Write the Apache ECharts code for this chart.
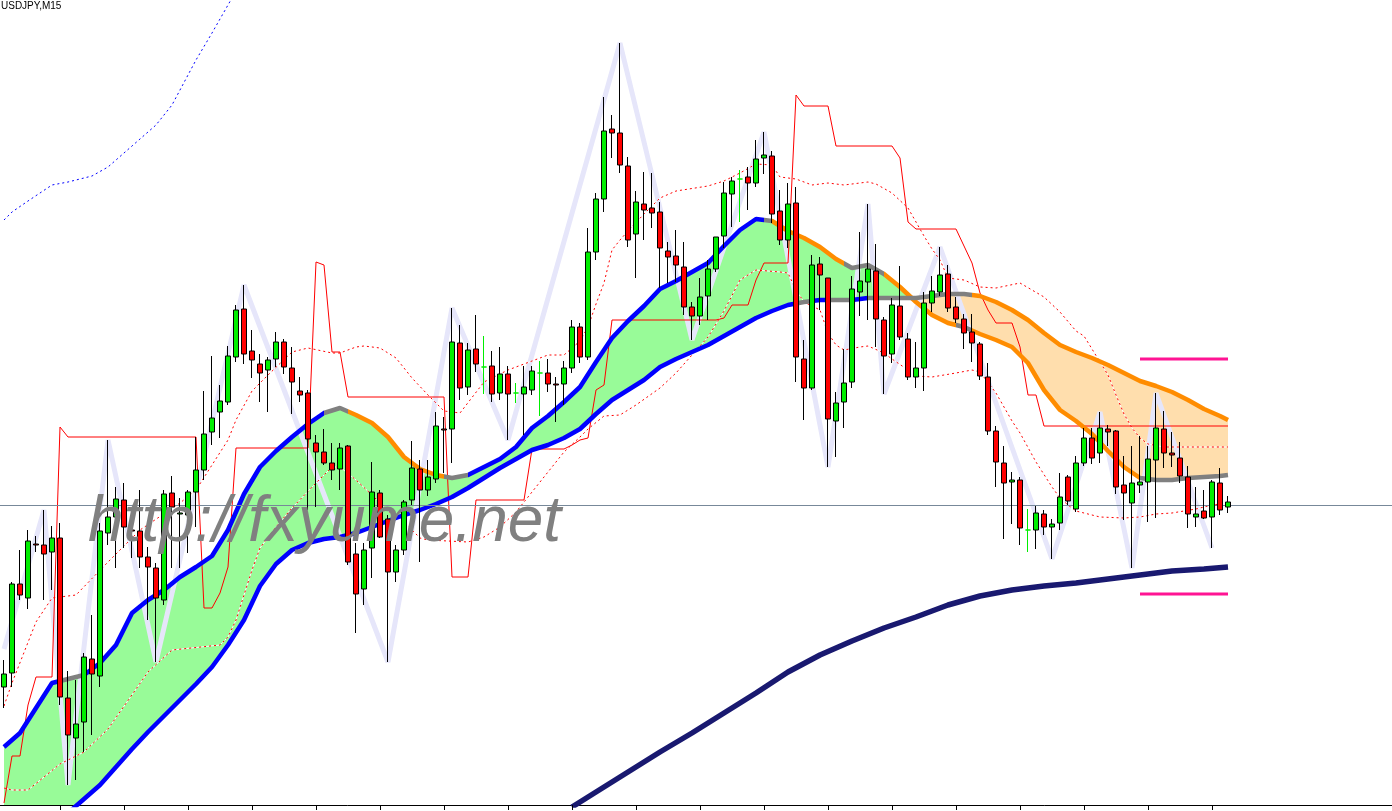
<!DOCTYPE html>
<html><head><meta charset="utf-8">
<script src="https://cdn.jsdelivr.net/npm/echarts/dist/echarts.min.js"></script>
<style>html,body{margin:0;padding:0;background:#fff}#c{width:1392px;height:811px}</style>
</head><body><div id="c"></div>
<script>
// All values are in points (0.001 JPY) above BASE.
const BASE = 107.5, PT = 0.001;
const SLOTS = 174; // bar slots visible on the chart (154 bars + empty right margin)
const TICK_EVERY = 8, TICK_OFFSET = 7;

const OPEN = [118,132,221,207,261,260,253,267,107,67,
83,146,129,272,288,305,275,274,248,237,
205,312,291,290,313,335,373,393,403,448,
496,454,441,435,446,463,437,414,412,362,
353,342,336,359,251,216,257,312,286,233,
255,305,336,315,326,376,376,462,418,456,
438,439,412,431,412,411,415,432,432,421,
421,437,478,448,553,606,676,672,639,571,
601,597,593,554,549,538,498,489,509,536,
569,611,626,628,622,647,649,594,565,602,
446,417,541,527,384,403,423,513,523,534,
485,451,499,466,428,437,502,513,531,498,
486,473,461,428,374,342,323,325,275,275,
291,278,282,328,296,342,367,352,376,374,
320,302,320,323,345,376,352,347,328,288,
294,288,322,298];
const CLOSE = [131,221,210,264,260,251,267,108,70,81,
148,131,274,288,306,278,274,248,238,207,
311,298,292,313,335,371,387,404,449,495,
451,445,432,445,463,438,423,410,366,353,
342,335,357,243,211,255,313,268,233,255,
303,337,315,328,379,375,463,417,455,441,
438,411,431,411,412,418,434,432,421,420,
437,478,448,553,606,674,672,640,565,603,
595,592,557,548,540,498,489,508,536,568,
612,624,626,622,646,650,591,565,601,448,
417,540,530,386,402,422,516,524,536,486,
449,500,468,428,437,502,514,530,497,486,
472,462,429,374,343,322,325,277,275,292,
278,281,308,304,342,367,347,377,373,318,
312,322,323,346,377,352,350,329,291,291,
287,323,295,303];
const HIGH = [145,223,255,275,269,295,279,282,134,125,
152,190,282,365,318,322,298,315,258,242,
315,329,307,315,368,414,449,420,459,500,
520,475,451,448,473,466,458,428,415,370,
376,362,362,360,262,262,343,315,290,260,
305,364,345,345,393,388,497,480,462,490,
469,454,458,439,422,439,439,444,446,428,
444,485,482,577,612,708,690,762,648,614,
633,632,603,563,575,563,503,527,545,568,
623,628,635,638,665,673,654,615,622,618,
465,550,548,527,413,456,529,573,601,561,
488,507,539,472,463,513,529,558,540,508,
491,491,463,442,379,359,333,328,296,299,
295,286,332,330,349,377,377,393,380,375,
349,359,369,359,412,394,373,363,339,318,
315,325,337,309];
const LOW = [97,118,205,196,253,205,215,100,20,25,
53,70,118,260,237,257,247,237,185,143,
200,237,237,252,278,325,360,367,400,443,
441,427,403,393,438,431,391,403,295,298,
340,325,315,240,172,200,227,267,143,223,
250,300,243,309,322,332,342,405,410,433,
411,403,405,365,402,370,410,389,413,383,
400,432,442,445,545,593,647,632,558,527,
565,577,517,522,523,490,465,480,485,533,
557,578,583,595,618,631,582,560,557,423,
385,415,495,338,348,377,417,489,485,458,
411,442,465,425,417,414,493,509,493,482,
456,443,425,370,318,266,281,260,253,256,
270,246,275,300,293,339,341,342,359,311,
285,237,312,283,287,337,338,322,277,278,
286,257,290,292];

// Moving averages read every 2 bars (bar index list MA_K)
const MA_K = Array.from({length: 77}, (_, i) => 2 * i).concat([153]);
const MA_FAST = [58,72,97,122,126,130,142,160,192,205,
215,228,238,249,275,311,338,354,368,381,
392,397,390,382,368,348,336,330,327,330,
338,346,358,377,389,403,418,443,467,484,
499,516,524,533,542,559,575,586,584,574,
567,558,546,537,540,531,518,503,490,482,
478,471,465,458,442,415,395,384,371,354,
338,327,325,325,327,328,329,330];
const MA_SLOW = [-66,-51,-37,-23,-8,6,20,38,56,73,
89,105,121,138,160,185,219,241,255,262,
266,268,272,278,284,290,295,301,308,317,
327,337,346,355,360,367,376,391,405,415,
425,438,446,453,460,469,478,487,494,500,
503,505,505,505,507,507,507,507,509,511,
511,509,503,495,485,472,460,453,447,440,
432,424,419,413,405,396,389,385];

// Long moving average
const NV_K = [71,74,78,82,86,90,94,98,102,106,110,114,118,122,126,130,134,138,142,146,150,153];
const NV_V = [-2,13,33,53,72,92,112,133,150,164,177,188,200,209,215,219,222,226,230,234,236,238];

// Trailing stop (one value per bar)
const STOP = [2,49,49,100,128,128,128,378,368,368,
368,368,368,368,368,368,368,368,368,368,
368,368,368,368,368,197,197,212,238,357,
357,357,357,357,357,357,357,357,357,543,
540,453,453,408,408,408,408,408,408,408,
408,408,408,408,408,408,228,228,228,305,
305,305,305,305,305,305,356,356,356,356,
356,360,365,367,415,420,485,485,485,485,
485,485,485,485,485,485,485,485,485,485,
487,500,500,500,525,542,542,542,542,710,
699,699,699,699,659,659,659,659,659,659,
659,659,647,583,576,576,576,576,576,576,
559,542,512,495,482,482,482,458,410,410,
379,379,379,379,379,379,379,379,379,379,
379,379,379,379,379,379,379,379,379,379,
379,379,379,379];

// Upper / lower dotted envelopes
const UP_K = [0,1,4,6,9,13,17,22,24,28,29,31,33,36,38,41,42,44,45,47,49,51,53,55,57,60,63,65,68,70,71,72,73,74,75,76,77,78,80,82,84,88,90,92,94,96,97,99,101,103,105,108,109,111,113,114,115,116,117,118,120,122,124,127,130,132,134,135,137,138,139,140,141,142,143,145,153];
const UP_V = [99,122,183,207,210,243,275,302,315,365,385,414,430,453,457,452,452,458,459,457,447,427,410,394,392,423,435,441,450,450,457,464,478,501,522,555,565,574,591,607,614,619,624,632,641,640,628,626,620,622,620,623,621,612,597,583,569,556,545,527,525,518,517,522,508,493,474,469,443,430,410,391,377,367,361,358,358];
const LO_K = [0,1,3,7,10,13,18,21,27,28,29,30,31,32,34,36,39,41,42,44,46,48,50,52,53,58,60,62,64,66,68,70,72,73,75,77,79,82,84,86,88,90,92,94,97,98,99,100,102,103,104,105,107,108,110,111,113,114,116,119,121,122,124,126,127,129,131,132,133,134,137,140,142,144,146,149,151,153];
const LO_V = [17,15,15,41,53,76,133,155,160,168,185,210,235,257,278,297,322,338,338,325,310,294,283,267,265,263,268,278,293,313,333,353,368,376,389,390,400,417,432,450,468,494,525,535,533,532,515,503,495,472,460,455,458,459,452,446,435,429,428,432,435,433,412,384,372,343,318,307,300,294,288,287,288,291,292,296,300,302];

// Blue dotted band (top left)
const BD_K = [0,1,3,6,8,11,13,16,19,21,24,26,28,29];
const BD_V = [585,593,604,620,623,629,638,659,680,700,745,772,800,814];

// ZigZag pivots
const ZZ_K = [0,5,8,13,19,30,48,56,63,77,86,95,103,108,110,117,131,137,141,144,151];
const ZZ_V = [156,295,20,365,143,520,143,497,365,762,465,673,338,601,411,558,246,393,237,412,257];

// Horizontal levels
const PINK_FROM = 142, PINK_TO = 153;
const PINK_LEVELS = [446, 211];
const BID = 304;

const P = v => +(BASE + v * PT).toFixed(3);
const pairs = (K, V) => K.map((k, i) => [k, P(V[i])]);
const NBARS = OPEN.length;
const TICK_BARS = [];
for (let i = TICK_OFFSET; i < NBARS; i += TICK_EVERY) TICK_BARS.push(i);

const C_BLUE = '#0000ff', C_GRAY = '#808080', C_ORANGE = '#ff8c00';
const FILL_UP = '#98fb98', FILL_DOWN = '#ffdead';
const CMAP = {b: C_BLUE, g: C_GRAY, o: C_ORANGE};
const FAST_BREAKS = [[0,'b'],[7,'g'],[10,'b'],[40,'g'],[43,'o'],[55,'g'],[58,'b'],[95,'g'],[96,'o'],[105,'g'],[110,'o'],[119,'g'],[121,'o'],[142,'g']];
const SLOW_BREAKS = [[0,'b'],[99,'g'],[101,'b'],[103,'g'],[106,'b'],[108,'g'],[121,'o']];
function pieces(br) {
  return br.map((b, i) => {
    const p = {color: CMAP[b[1]]};
    if (i > 0) p.gte = b[0];
    if (i < br.length - 1) p.lt = br[i + 1][0];
    return p;
  });
}

function renderFill(params, api) {
  const pts = MA_K.map((k, i) => ({
    f: api.coord([k, P(MA_FAST[i])]),
    s: api.coord([k, P(MA_SLOW[i])]),
    d: MA_FAST[i] - MA_SLOW[i]
  }));
  const polys = [];
  let cur = null;
  const close = () => {
    if (cur && cur.top.length > 1) polys.push({type: 'polygon',
      shape: {points: cur.top.concat(cur.bot.slice().reverse())},
      style: {fill: cur.up ? FILL_UP : FILL_DOWN}});
  };
  pts.forEach((p, i) => {
    const up = p.d >= 0;
    if (cur && up !== cur.up) {
      const q = pts[i - 1], t = q.d / (q.d - p.d);
      const x = [q.f[0] + t * (p.f[0] - q.f[0]), q.f[1] + t * (p.f[1] - q.f[1])];
      cur.top.push(x); cur.bot.push(x); close();
      cur = {up, top: [x], bot: [x]};
    }
    if (!cur) cur = {up, top: [], bot: []};
    cur.top.push(p.f); cur.bot.push(p.s);
  });
  close();
  return {type: 'group', children: polys};
}

function renderTick(params, api) {
  const p = api.coord([api.value(0), api.value(1)]);
  const x = Math.round(p[0]) + 0.5;
  return {type: 'line', shape: {x1: x, y1: p[1], x2: x, y2: p[1] + 5}, style: {stroke: '#000', lineWidth: 1}};
}

const cats = Array.from({length: SLOTS}, (_, i) => String(i));
const candles = OPEN.map((o, i) => [P(o), P(CLOSE[i]), P(LOW[i]), P(HIGH[i])]);

const lineBase = {type: 'line', showSymbol: false, silent: true, animation: false};
const series = [
  {type: 'custom', renderItem: renderFill, data: [[0, P(300)]], clip: true, silent: true, z: 1},
  Object.assign({}, lineBase, {data: pairs(ZZ_K, ZZ_V), lineStyle: {color: '#e6e6fa', width: 5}, z: 2}),
  Object.assign({}, lineBase, {data: pairs(LO_K, LO_V), lineStyle: {color: '#ffffff', width: 1}, z: 3}),
  Object.assign({}, lineBase, {data: pairs(LO_K, LO_V), lineStyle: {color: '#ff0000', width: 1, type: [2, 3]}, z: 3}),
  Object.assign({}, lineBase, {data: pairs(UP_K, UP_V), lineStyle: {color: '#ffffff', width: 1}, z: 3}),
  Object.assign({}, lineBase, {data: pairs(UP_K, UP_V), lineStyle: {color: '#ff0000', width: 1, type: [2, 3]}, z: 3}),
  Object.assign({}, lineBase, {data: pairs(BD_K, BD_V), lineStyle: {color: '#0000ff', width: 1, type: [2, 3]}, z: 3}),
  Object.assign({}, lineBase, {data: STOP.map((v, i) => [i, P(v)]), lineStyle: {color: '#ff0000', width: 1}, z: 3}),
  Object.assign({}, lineBase, {data: pairs(MA_K, MA_FAST), lineStyle: {width: 4.5}, z: 4}),
  Object.assign({}, lineBase, {data: pairs(MA_K, MA_SLOW), lineStyle: {width: 4.5}, z: 4}),
  Object.assign({}, lineBase, {data: pairs(NV_K, NV_V), lineStyle: {color: '#191970', width: 5.5}, z: 4})
];
const IDX_FAST = 8, IDX_SLOW = 9;
PINK_LEVELS.forEach(v => series.push(Object.assign({}, lineBase, {
  data: [[PINK_FROM, P(v)], [PINK_TO, P(v)]], lineStyle: {color: '#ff1493', width: 3}, z: 4})));
series.push({
  type: 'candlestick', data: candles, barWidth: 6, z: 5, silent: true,
  itemStyle: {color: '#00ee00', color0: '#ff0000', borderColor: '#000', borderColor0: '#000',
    borderColorDoji: '#00ee00', borderWidth: 1},
  markLine: {symbol: 'none', silent: true, animation: false, label: {show: false},
    lineStyle: {color: '#778899', width: 1, type: 'solid'}, data: [{yAxis: P(BID)}]}
});
series.push({type: 'custom', renderItem: renderTick, data: TICK_BARS.map(i => [i, P(0)]), clip: false, silent: true, z: 6});

const chart = echarts.init(document.getElementById('c'), null, {renderer: 'canvas'});
chart.setOption({
  animation: false,
  backgroundColor: '#ffffff',
  grid: {left: 0, right: 0, top: 0, bottom: 6},
  xAxis: {type: 'category', data: cats, boundaryGap: true,
    axisLine: {show: true, lineStyle: {color: '#000', width: 1}},
    axisTick: {show: false},
    axisLabel: {show: false}, splitLine: {show: false}},
  yAxis: {type: 'value', min: P(0), max: P(805), show: false, splitLine: {show: false}},
  visualMap: [
    {type: 'piecewise', show: false, seriesIndex: IDX_FAST, dimension: 0, pieces: pieces(FAST_BREAKS)},
    {type: 'piecewise', show: false, seriesIndex: IDX_SLOW, dimension: 0, pieces: pieces(SLOW_BREAKS)}
  ],
  graphic: [
    {type: 'text', x: 1, y: 1, z: 100, silent: true,
      style: {text: 'USDJPY,M15', font: '10px "Liberation Sans", Arial, sans-serif', fill: '#000', verticalAlign: 'top', align: 'left'}},
    {type: 'text', x: 88, y: 523, z: 100, silent: true,
      style: {text: 'http://fxyume.net', font: 'italic 64px "Liberation Sans", Arial, sans-serif', fill: '#808080', verticalAlign: 'middle', align: 'left'}}
  ],
  series: series
});
</script>
</body></html>
